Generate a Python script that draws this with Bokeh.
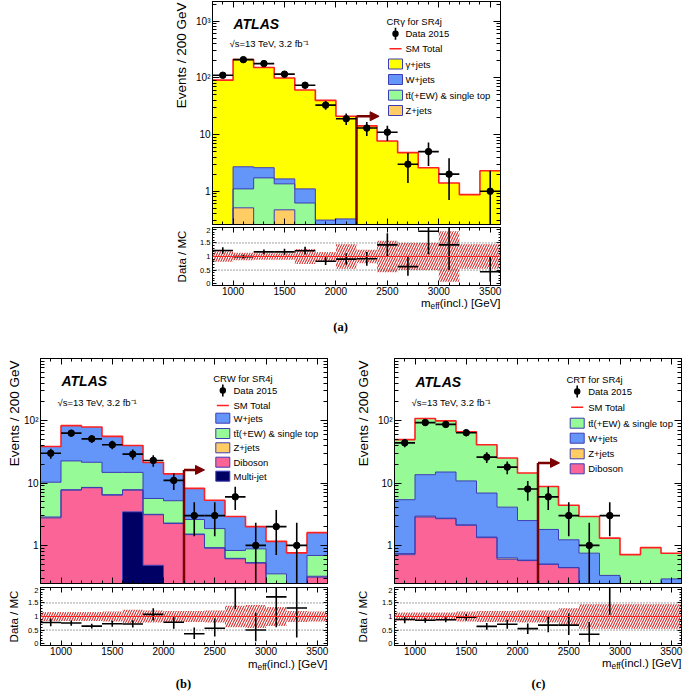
import numpy as np
from bokeh.plotting import figure
from bokeh.layouts import column, row
from bokeh.models import (Range1d, FixedTicker, LinearAxis, Label, BoxAnnotation,
                          Span, Arrow, NormalHead, CustomJSTickFormatter)
from bokeh.embed import file_html
from bokeh.resources import INLINE

# ---------------- data ----------------
bin_edges = [800, 1000, 1200, 1400, 1600, 1800, 2000, 2200, 2400, 2600, 2800, 3000, 3200, 3400, 3600]
x_tick_values = [1000, 1500, 2000, 2500, 3000, 3500]
cut_value = 2200

# (a) CRgamma for SR4j
a_data = [111, 209, 178, 116, 74, 33, 19, 13, 11, 3, 5, 2, 0, 1]
a_err_up = [11, 15, 13, 11, 9, 6, 4.5, 3.6, 3.3, 1.7, 2.2, 1.8, 0, 1.3]
a_err_dn = [10.5, 14.5, 13, 10.5, 8.5, 5.7, 4.3, 3.6, 3.3, 1.6, 2.2, 1.3, 0, 0.83]
a_zjets = [0.02, 0.51, 0.05, 0.47, 0.05, 0, 0, 0, 0, 0, 0, 0, 0, 0]
a_ttbar = [0.10, 0.59, 1.67, 0.88, 0.57, 0.15, 0.15, 0.05, 0.05, 0.02, 0.02, 0.01, 0.01, 0.01]
a_wjets = [0.05, 1.60, 0.88, 0.30, 0.48, 0.16, 0.175, 0.05, 0.05, 0.02, 0.02, 0.01, 0.01, 0.01]
a_gamjets = [90.8, 207.3, 149.4, 97.35, 59.9, 39.7, 20.7, 14.1, 7.6, 4.75, 2.55, 1.38, 0.85, 2.28]
a_band = [0.19, 0.14, 0.12, 0.12, 0.28, 0.17, 0.45, 0.25, 0.58, 0.5, 0.5, 0.93, 0.45, 0.45]

# (b) CRW for SR4j
b_data = [30, 63, 51, 41, 29, 23, 11, 3, 3, 6, 1, 2, 1, 0]
b_err_up = [5.5, 8, 7.1, 6.4, 5.4, 4.8, 3.3, 1.9, 1.9, 2.7, 1.3, 1.7, 1.3, 0]
b_err_dn = [5.5, 8, 7.1, 6.4, 5.4, 4.8, 3.3, 1.6, 1.6, 2.3, 0.83, 1.3, 0.83, 0]
b_multijet = [0, 0, 0, 0, 3.45, 0.48, 0, 0, 0, 0, 0, 0, 0, 0]
b_diboson = [2.76, 7.7, 8.4, 6.4, 4.25, 2.62, 2.24, 1.49, 0.9, 0.61, 0.52, 0.1, 0.1, 0.31]
b_zjets = [0.09, 0.1, 0.1, 0.1, 0.1, 0.05, 0.04, 0.03, 0.02, 0.01, 0.01, 0.0, 0.0, 0.01]
b_ttbar = [7.45, 14.8, 13.0, 8.3, 7.0, 2.5, 2.92, 1.08, 0.94, 0.21, 0.35, 0.25, 0.1, 0.37]
b_wjets = [28.2, 60.4, 57.5, 41.2, 25.2, 15.65, 8.8, 5.6, 3.44, 2.07, 1.12, 0.81, 0.56, 0.91]
b_band = [0.17, 0.17, 0.17, 0.18, 0.25, 0.22, 0.2, 0.2, 0.22, 0.4, 0.42, 0.35, 0.2, 0.18]

# (c) CRT for SR4j
c_data = [44, 93, 87, 64, 26, 18, 8, 6, 3, 1, 3, 0, 0, 0]
c_err_up = [6.6, 9.6, 9.3, 8, 5.1, 4.2, 2.8, 2.7, 1.9, 1.3, 1.9, 0, 0, 0]
c_err_dn = [6.6, 9.6, 9.3, 8, 5.1, 4.2, 2.8, 2.3, 1.6, 0.83, 1.6, 0, 0, 0]
c_diboson = [0.71, 2.85, 2.68, 2.1, 1.33, 0.6, 0.57, 0.5, 0.44, 0.15, 0.1, 0.05, 0.05, 0.1]
c_zjets = [0.03, 0.1, 0.05, 0.04, 0.03, 0.03, 0.01, 0, 0, 0, 0, 0, 0, 0]
c_wjets = [4.66, 10.65, 12.27, 8.66, 5.54, 3.47, 1.92, 1.3, 0.79, 0.6, 0.23, 0.1, 0.1, 0.19]
c_ttbar = [44.2, 94.4, 84.0, 55.2, 34.1, 21.1, 12.0, 7.0, 3.17, 2.15, 0.98, 0.56, 0.77, 0.46]
c_band = [0.15, 0.15, 0.15, 0.18, 0.2, 0.2, 0.22, 0.22, 0.3, 0.45, 0.45, 0.45, 0.45, 0.45]

# ---------------- style ----------------
FONT = "Liberation Sans"
SERIF = "Liberation Serif"
C_GAM = "#ffff00"
C_W = "#6496fa"
C_TT = "#96fa96"
C_Z = "#ffcd64"
C_DB = "#fa6496"
C_MJ = "#000064"
C_OUT = "#3c3cb4"
C_RED = "#ff2020"
C_ARROW = "#7a0000"
C_HATCH = "#d03030"

edges = np.array(bin_edges, dtype=float)
lefts = edges[:-1]
rights = edges[1:]
centers = 0.5 * (lefts + rights)

log_minor = [k * 10.0 ** d for d in range(-1, 4) for k in range(2, 10)]
EMPTY = CustomJSTickFormatter(code="return ''")


def style_axis(ax, ticker, labels, size="10px", major=6, minor=3, overrides=None, standoff=2):
    ax.ticker = ticker
    ax.major_tick_in = int(major)
    ax.major_tick_out = 0
    ax.minor_tick_in = int(minor)
    ax.minor_tick_out = 0
    ax.axis_line_color = "black"
    ax.major_tick_line_color = "black"
    ax.minor_tick_line_color = "black"
    ax.axis_label = None
    if labels:
        ax.major_label_text_font = FONT
        ax.major_label_text_font_size = size
        ax.major_label_text_color = "black"
        ax.major_label_standoff = standoff
        if overrides:
            ax.major_label_overrides = overrides
    else:
        ax.formatter = EMPTY
        ax.major_label_text_font_size = "0px"
        ax.major_label_standoff = 0


def base_fig(width, left, right, top, fh, bottom, yrange, ylog):
    p = figure(width=width, height=top + fh + bottom,
               x_range=Range1d(800, 3600), y_range=Range1d(*yrange),
               y_axis_type="log" if ylog else "linear",
               output_backend="svg", toolbar_location=None,
               min_border_left=left, min_border_right=right,
               min_border_top=top, min_border_bottom=bottom)
    p.outline_line_color = "black"
    p.outline_line_alpha = 1
    p.outline_line_width = 1
    p.xgrid.visible = False
    p.ygrid.visible = False
    p.background_fill_color = "white"
    p.border_fill_color = "white"
    return p


def canvas_fig(width, height):
    p = figure(width=width, height=height, x_range=Range1d(0, width), y_range=Range1d(0, height),
               x_axis_location=None, y_axis_location=None, output_backend="svg",
               toolbar_location=None, min_border=0)
    p.outline_line_color = None
    p.grid.visible = False
    p.background_fill_color = "white"
    p.border_fill_color = "white"
    return p


def lab(p, x, y, text, size, font=FONT, style="normal", align="left", baseline="middle", angle=0, color="black"):
    p.add_layout(Label(x=x, y=y, x_units="screen", y_units="screen", text=text,
                       text_font=font, text_font_size=size, text_font_style=style,
                       text_align=align, text_baseline=baseline, angle=angle,
                       text_color=color))


def box(p, l, r, b, t, fill, line=None, radius=0):
    kw = dict(left=l, right=r, bottom=b, top=t, left_units="screen", right_units="screen",
              bottom_units="screen", top_units="screen", fill_color=fill, fill_alpha=1,
              line_color=line, line_alpha=1 if line else 0, line_width=1)
    if radius:
        kw["border_radius"] = radius
    p.add_layout(BoxAnnotation(**kw))


def xtitle(p, x_right, y, size=11.5):
    w_rest = 5.279 * size
    w_sub = 1.112 * size * 0.72
    w_m = 0.833 * size
    x_m = x_right - w_rest - w_sub - w_m
    lab(p, x_m, y, "m", f"{size}px")
    lab(p, x_m + w_m, y - 3, "eff", f"{size * 0.72:.1f}px")
    lab(p, x_right, y, "(incl.) [GeV]", f"{size}px", align="right")


def make_main(width, left, right, top, fh, bottom, yrange, comps, data, eup, edn,
              arrow_y, arrow_end, legend_spec, texts_y):
    p = base_fig(width, left, right, top, fh, bottom, yrange, True)
    xt = FixedTicker(ticks=x_tick_values, minor_ticks=list(range(800, 3601, 100)))
    yt = FixedTicker(ticks=[1, 10, 100, 1000], minor_ticks=log_minor)
    style_axis(p.xaxis[0], xt, False, major=6, minor=3)
    style_axis(p.yaxis[0], yt, True, size="10px", major=7, minor=4,
               overrides={1: "1", 10: "10", 100: "10\u00b2", 1000: "10\u00b3"})
    ta = LinearAxis()
    style_axis(ta, xt, False, major=6, minor=3)
    p.add_layout(ta, "above")
    ra = LinearAxis()
    style_axis(ra, yt, False, major=7, minor=4)
    p.add_layout(ra, "right")

    floor = yrange[0] / 5.0
    base = np.zeros(len(centers))
    tops = []
    for vals, col in comps:
        top_v = base + np.array(vals, dtype=float)
        y1 = np.maximum(base, floor)
        y2 = np.maximum(top_v, floor)
        p.varea_step(x=edges, y1=np.append(y1, y1[-1]), y2=np.append(y2, y2[-1]),
                     step_mode="after", fill_color=col, fill_alpha=1)
        tops.append(y2)
        base = top_v
    for t in tops[:-1]:
        p.step(x=edges, y=np.append(t, t[-1]), mode="after", line_color=C_OUT, line_width=1)
    total = base
    p.step(x=edges, y=np.append(total, total[-1]), mode="after", line_color=C_RED, line_width=1.6)

    # cut arrow
    p.segment(x0=[cut_value], y0=[yrange[0]], x1=[cut_value], y1=[arrow_y],
              line_color=C_ARROW, line_width=2.5)
    p.add_layout(Arrow(x_start=cut_value, y_start=arrow_y, x_end=arrow_end, y_end=arrow_y,
                       line_color=C_ARROW, line_width=2.5,
                       end=NormalHead(size=9, fill_color=C_ARROW, line_color=C_ARROW)))

    d = np.array(data, dtype=float)
    m = d > 0
    up = np.array(eup, dtype=float)
    dn = np.array(edn, dtype=float)
    p.segment(x0=centers[m], y0=(d - dn)[m], x1=centers[m], y1=(d + up)[m], line_color="black", line_width=1.6)
    p.segment(x0=lefts[m], y0=d[m], x1=rights[m], y1=d[m], line_color="black", line_width=1.6)
    p.scatter(centers[m], d[m], marker="circle", size=6.5, fill_color="black", line_color="black")

    atlas_y, sqrt_y = texts_y
    lab(p, 21, atlas_y, "ATLAS", "14px", style="bold italic")
    lab(p, 17, sqrt_y, "\u221as=13 TeV, 3.2 fb\u207b\u00b9", "9.5px")

    title, tx, bx, ttx, ty, items = legend_spec
    lab(p, tx, ty, title, "9.5px")
    for kind, col, text, yy in items:
        if kind == "data":
            xc = bx + 7
            box(p, xc - 0.8, xc + 0.8, yy - 6, yy + 6, "black")
            box(p, xc - 3.2, xc + 3.2, yy - 3.2, yy + 3.2, "black", radius=3)
        elif kind == "line":
            box(p, bx + 1, bx + 13, yy - 0.8, yy + 0.8, C_RED)
        else:
            box(p, bx, bx + 14, yy - 5, yy + 5, col, line=C_OUT)
        lab(p, ttx, yy, text, "9.5px")
    return p, total


def make_ratio(width, left, right, top, fh, bottom, data, eup, edn, total, band):
    p = base_fig(width, left, right, top, fh, bottom, (-0.07, 2.07), False)
    xt = FixedTicker(ticks=x_tick_values, minor_ticks=list(range(800, 3601, 100)))
    yt = FixedTicker(ticks=[0, 0.5, 1, 1.5, 2], minor_ticks=[round(0.1 * i, 1) for i in range(21)])
    style_axis(p.xaxis[0], xt, True, size="10px", major=5, minor=3, standoff=1)
    style_axis(p.yaxis[0], yt, True, size="7.5px", major=4, minor=2,
               overrides={0: "0", 0.5: "0.5", 1: "1", 1.5: "1.5", 2: "2"})
    ta = LinearAxis()
    style_axis(ta, xt, False, major=5, minor=3)
    p.add_layout(ta, "above")
    ra = LinearAxis()
    style_axis(ra, yt, False, major=4, minor=2)
    p.add_layout(ra, "right")

    for yv in (0.5, 1.0, 1.5):
        p.add_layout(Span(location=yv, dimension="width", line_color="#444444",
                          line_dash="1 2", line_width=1))
    bnd = np.array(band, dtype=float)
    p.quad(left=lefts, right=rights, bottom=1 - bnd, top=1 + bnd, fill_alpha=0, line_alpha=0,
           hatch_pattern="/", hatch_color=C_HATCH, hatch_scale=5, hatch_weight=1.1, hatch_alpha=1)
    p.add_layout(Span(location=1.0, dimension="width", line_color=C_RED, line_width=1.2))

    d = np.array(data, dtype=float)
    m = d > 0
    r = d / total
    ru = np.array(eup, dtype=float) / total
    rd = np.array(edn, dtype=float) / total
    p.segment(x0=centers[m], y0=(r - rd)[m], x1=centers[m], y1=(r + ru)[m], line_color="black", line_width=1.6)
    p.segment(x0=lefts[m], y0=r[m], x1=rights[m], y1=r[m], line_color="black", line_width=1.6)
    return p


YT = "Events / 200 GeV"
RT = "Data / MC"

# ---------------- panel (a) ----------------
a_comps = [(a_zjets, C_Z), (a_ttbar, C_TT), (a_wjets, C_W), (a_gamjets, C_GAM)]
a_leg = ("CR\u03b3 for SR4j", 174, 176, 193, 203,
         [("data", None, "Data 2015", 190.7), ("line", None, "SM Total", 175.7),
          ("box", C_GAM, "\u03b3+jets", 160.5), ("box", C_W, "W+jets", 145),
          ("box", C_TT, "tt\u0304(+EW) & single top", 129.3),
          ("box", C_Z, "Z+jets", 114)])
pa, a_total = make_main(327, 18, 20, 1, 223, 3, (0.259, 2218), a_comps, a_data, a_err_up, a_err_dn,
                        21, 2420, a_leg, (201, 180.7))
pa_r = make_ratio(327, 18, 20, 0, 58, 12, a_data, a_err_up, a_err_dn, a_total, a_band)

capA_left = canvas_fig(193, 297)
lab(capA_left, 181, 295, YT, "13.5px", align="right", angle=np.pi / 2)
lab(capA_left, 181, 41, RT, "11.5px", align="center", angle=np.pi / 2)

capA_bot = canvas_fig(520, 38)
xtitle(capA_bot, 500, 32.3)
lab(capA_bot, 340, 8.5, "(a)", "12.5px", font=SERIF, style="bold", align="center")

top_block = column(row(capA_left, column(pa, pa_r)), capA_bot)

# ---------------- panel (b) ----------------
b_comps = [(b_multijet, C_MJ), (b_diboson, C_DB), (b_zjets, C_Z), (b_ttbar, C_TT), (b_wjets, C_W)]
b_leg = ("CRW for SR4j", 172.7, 175.3, 193, 204.7,
         [("data", None, "Data 2015", 193), ("line", None, "SM Total", 178),
          ("box", C_W, "W+jets", 165.3), ("box", C_TT, "tt\u0304(+EW) & single top", 150),
          ("box", C_Z, "Z+jets", 135.7), ("box", C_DB, "Diboson", 121.3),
          ("box", C_MJ, "Multi-jet", 107.3)])
pb, b_total = make_main(334, 17, 28, 23, 225, 4, (0.245, 990), b_comps, b_data, b_err_up, b_err_dn,
                        16.2, 2400, b_leg, (202.3, 181.3))
pb_r = make_ratio(334, 17, 28, 0, 58, 12, b_data, b_err_up, b_err_dn, b_total, b_band)

# ---------------- panel (c) ----------------
c_comps = [(c_diboson, C_DB), (c_zjets, C_Z), (c_wjets, C_W), (c_ttbar, C_TT)]
c_leg = ("CRT for SR4j", 172, 175.7, 193.7, 204,
         [("data", None, "Data 2015", 192), ("line", None, "SM Total", 176.3),
          ("box", C_TT, "tt\u0304(+EW) & single top", 160.3), ("box", C_W, "W+jets", 145.3),
          ("box", C_Z, "Z+jets", 129.7), ("box", C_DB, "Diboson", 114.7)])
pc, c_total = make_main(310, 17, 4, 23, 225, 4, (0.245, 990), c_comps, c_data, c_err_up, c_err_dn,
                        21, 2410, c_leg, (202, 181.3))
pc_r = make_ratio(310, 17, 4, 0, 58, 12, c_data, c_err_up, c_err_dn, c_total, c_band)

capB_left = canvas_fig(21, 322)
lab(capB_left, 13.5, 297, YT, "13.5px", align="right", angle=np.pi / 2)
lab(capB_left, 13, 41, RT, "11.5px", align="center", angle=np.pi / 2)

capC_left = canvas_fig(20, 322)
lab(capC_left, 7.5, 297, YT, "13.5px", align="right", angle=np.pi / 2)
lab(capC_left, 7, 41, RT, "11.5px", align="center", angle=np.pi / 2)

cap_bot = canvas_fig(685, 35)
xtitle(cap_bot, 327, 28.7)
xtitle(cap_bot, 681, 29.5)
lab(cap_bot, 183, 9, "(b)", "12.5px", font=SERIF, style="bold", align="center")
lab(cap_bot, 538, 9, "(c)", "12.5px", font=SERIF, style="bold", align="center")

bottom_block = column(row(capB_left, column(pb, pb_r), capC_left, column(pc, pc_r)), cap_bot)

root = column(top_block, bottom_block)

open("out.html", "w").write(file_html(root, INLINE))
